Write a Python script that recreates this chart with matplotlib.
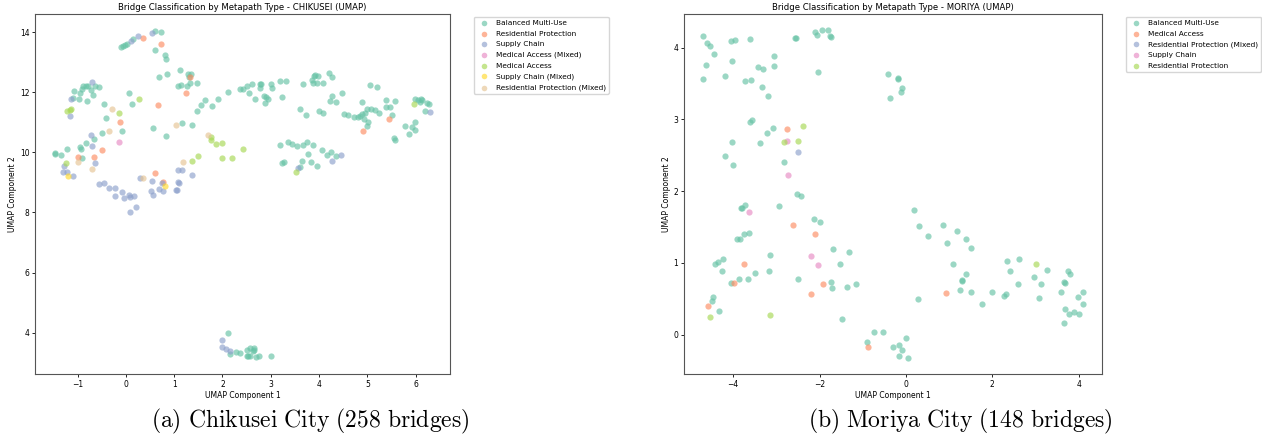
import matplotlib
matplotlib.use("Agg")
import matplotlib.pyplot as plt

plt.rcParams['mathtext.fontset'] = 'cm'

set2 = ['#66c2a5', '#fc8d62', '#8da0cb', '#e78ac3', '#a6d854', '#ffd92f', '#e5c494']

# ---- Chikusei ----
chikusei_labels = ['Balanced Multi-Use', 'Residential Protection', 'Supply Chain',
                   'Medical Access (Mixed)', 'Medical Access', 'Supply Chain (Mixed)',
                   'Residential Protection (Mixed)']

chikusei_balanced = [
    (-1.47, 9.93), (-1.47, 9.97), (-1.34, 9.90), (-1.21, 10.10), (-0.95, 10.17), (-0.92, 10.10),
    (-0.90, 9.80), (-0.83, 10.30), (-0.66, 10.43), (-0.50, 10.63), (-0.41, 11.13), (-0.46, 11.60),
    (-1.07, 12.04), (-0.97, 11.77), (-1.10, 11.80),
    (-0.88, 12.20), (-0.83, 12.22), (-0.78, 12.20), (-0.72, 12.07), (-0.68, 11.92), (-0.64, 12.20),
    (-0.56, 12.18), (-0.80, 11.70), (-0.95, 11.98), (-0.91, 12.12),
    (-0.10, 13.50), (-0.05, 13.55), (-0.02, 13.58), (0.02, 13.60), (0.15, 13.76), (0.61, 14.05),
    (0.73, 13.99), (0.61, 13.40), (0.81, 13.24), (0.84, 13.10), (0.86, 12.59), (0.69, 12.49),
    (1.12, 12.73), (1.28, 12.62), (1.35, 12.62), (1.31, 12.50), (1.08, 12.20), (1.15, 12.23),
    (1.26, 12.20), (1.33, 12.29), (1.47, 12.32), (0.07, 11.97), (0.12, 11.61), (-0.07, 10.71),
    (0.56, 10.80), (0.83, 10.54), (1.17, 10.98), (1.36, 10.91), (1.47, 11.36), (1.55, 11.57),
    (1.64, 11.73), (1.78, 11.53), (1.91, 11.77), (2.12, 12.00),
    (2.36, 12.10), (2.42, 12.10), (2.50, 12.20), (2.54, 11.96), (2.62, 12.27), (2.67, 11.76),
    (2.77, 12.26), (2.79, 12.28), (2.77, 12.13), (2.86, 11.89), (2.90, 11.84), (2.95, 11.76),
    (2.89, 11.64), (3.00, 12.26), (3.03, 12.13), (3.20, 12.36), (3.31, 12.38), (3.24, 11.84),
    (3.61, 11.44), (3.73, 11.23), (3.67, 12.27), (3.86, 12.42), (3.89, 12.53), (3.92, 12.58),
    (3.98, 12.53), (3.96, 12.29), (3.88, 12.31), (4.09, 12.29), (4.21, 12.64), (4.26, 12.49),
    (4.26, 11.88), (4.22, 11.72), (4.36, 11.68), (4.47, 11.98), (4.00, 11.36), (4.09, 11.30),
    (4.51, 11.29), (4.60, 11.23), (4.73, 11.18), (4.80, 11.18), (4.85, 11.22), (4.89, 11.27),
    (4.95, 11.32), (5.00, 11.43), (5.07, 11.44), (5.15, 11.42), (5.25, 11.31), (4.93, 11.11),
    (5.02, 11.01), (5.00, 10.86), (4.89, 11.69), (5.06, 12.24), (5.20, 12.18), (5.38, 11.73),
    (5.38, 11.51), (5.47, 11.50), (5.58, 11.72), (5.50, 11.23), (5.55, 10.48), (5.58, 10.41),
    (5.78, 10.87), (5.87, 10.62), (5.93, 10.84), (5.98, 10.73), (5.98, 11.00),
    (5.98, 11.78), (6.05, 11.73), (6.08, 11.69), (6.12, 11.78), (6.13, 11.73), (6.23, 11.64),
    (6.27, 11.62), (6.20, 11.37),
    (3.19, 10.23), (3.36, 10.36), (3.43, 10.28), (3.55, 10.21), (3.66, 10.26), (3.76, 10.33),
    (3.88, 10.26), (3.78, 9.93), (4.07, 10.07), (4.16, 9.92), (4.24, 10.00), (4.36, 9.87),
    (3.64, 9.70), (3.83, 9.67), (3.96, 9.56), (3.24, 9.64), (3.27, 9.68), (3.60, 9.50),
    (2.11, 3.98), (2.15, 3.31), (2.28, 3.36), (2.37, 3.33), (2.50, 3.44), (2.50, 3.24),
    (2.53, 3.24), (2.58, 3.51), (2.66, 3.51), (2.64, 3.38), (2.65, 3.44), (2.58, 3.22),
    (2.69, 3.18), (2.75, 3.22), (3.00, 3.22),
]
chikusei_res_prot = [
    (0.36, 13.79), (0.73, 13.61), (1.33, 12.49), (1.24, 11.96), (0.66, 11.56), (-0.12, 11.01),
    (-0.50, 10.07), (-0.99, 9.84), (-0.65, 9.84), (0.60, 9.32), (0.77, 9.01), (4.91, 10.70),
    (5.45, 11.10),
]
chikusei_supply = [
    (-1.16, 11.20), (-1.14, 11.79), (-0.70, 12.34), (0.10, 13.70), (0.26, 13.88), (0.54, 13.98),
    (-0.69, 10.20), (-0.72, 10.58), (-0.64, 9.66), (-1.28, 9.56), (-1.30, 9.36), (-1.21, 9.36),
    (-1.10, 9.21), (-0.56, 8.94), (-0.45, 8.97), (-0.35, 8.82), (-0.23, 8.80), (-0.23, 8.56),
    (-0.07, 8.68), (-0.04, 8.48), (0.07, 8.59), (0.08, 8.51), (0.17, 8.54), (0.21, 8.17),
    (0.08, 8.00), (0.30, 9.14), (0.54, 9.04), (0.52, 8.71), (0.56, 8.59), (0.68, 8.79),
    (0.75, 8.98), (0.77, 8.70), (1.04, 8.76), (1.05, 8.75), (1.08, 9.00), (1.10, 8.97),
    (1.07, 9.41), (1.17, 9.41), (1.37, 9.26), (3.57, 9.49), (4.26, 9.72), (4.45, 9.92),
    (6.30, 11.33), (1.99, 3.77), (1.99, 3.53), (2.08, 3.47), (2.15, 3.40),
]
chikusei_med_mixed = [(-0.14, 10.33)]
chikusei_medical = [
    (-1.22, 11.38), (-1.16, 11.42), (-1.13, 11.45), (-1.23, 9.64), (0.28, 11.79), (-0.14, 11.32),
    (1.37, 9.72), (1.50, 9.89), (1.77, 10.51), (1.77, 10.42), (1.87, 10.29), (2.00, 10.30),
    (1.99, 9.81), (2.19, 9.81), (2.42, 10.12), (3.52, 9.34), (5.97, 11.60),
]
chikusei_supply_mixed = [(-1.19, 9.22), (0.82, 8.88)]
chikusei_res_mixed = [
    (-0.28, 11.43), (-0.35, 10.71), (1.04, 10.91), (1.18, 9.69), (1.71, 10.58), (-0.99, 9.69),
    (-0.70, 9.44), (0.35, 9.14),
]

# ---- Moriya ----
moriya_labels = ['Balanced Multi-Use', 'Medical Access', 'Residential Protection (Mixed)',
                 'Supply Chain', 'Residential Protection']

moriya_balanced = [
    (-4.70, 4.16), (-4.61, 4.07), (-4.54, 4.02), (-4.44, 3.91), (-4.64, 3.76), (-4.70, 3.56),
    (-4.06, 4.10), (-3.97, 4.11), (-4.03, 3.82), (-4.20, 3.60), (-3.62, 4.12), (-3.73, 3.54),
    (-3.59, 3.55), (-3.42, 3.73), (-3.30, 3.71), (-3.05, 3.88), (-3.05, 3.74), (-3.33, 3.45),
    (-3.19, 3.33), (-2.56, 4.14), (-2.54, 4.14), (-2.11, 4.22), (-2.06, 4.18), (-1.95, 4.24),
    (-1.80, 4.24), (-1.77, 4.17), (-1.74, 4.15), (-2.04, 3.66), (-0.41, 3.64), (-0.19, 3.58),
    (-0.18, 3.57), (-0.09, 3.44), (-0.12, 3.38), (-0.37, 3.30),
    (-3.62, 2.97), (-3.56, 2.99), (-3.08, 2.88), (-3.22, 2.81), (-3.39, 2.67), (-4.02, 2.69),
    (-4.20, 2.49), (-4.00, 2.36), (-2.82, 2.40), (-2.52, 1.96), (-2.44, 1.93), (-2.94, 1.79),
    (-3.83, 1.77), (-3.79, 1.77), (-3.73, 1.80), (-2.14, 1.61), (-2.00, 1.57), (0.19, 1.74),
    (0.31, 1.52), (0.86, 1.53), (0.52, 1.37), (0.96, 1.28),
    (-3.92, 1.33), (-3.85, 1.33), (-3.76, 1.40), (-3.63, 1.42), (-1.69, 1.20), (-1.33, 1.15),
    (-1.53, 0.99), (-1.74, 0.73), (-1.72, 0.65), (-1.36, 0.67), (-1.16, 0.70), (-2.51, 0.78),
    (-1.47, 0.21), (-3.16, 1.11), (-3.17, 0.89), (-3.50, 0.86), (-3.65, 0.78), (-3.87, 0.78),
    (-4.06, 0.72), (-4.42, 0.99), (-4.35, 1.01), (-4.24, 1.06), (-4.27, 0.88), (-4.48, 0.52),
    (-4.50, 0.47), (-4.34, 0.33),
    (-0.90, -0.11), (-0.75, 0.04), (-0.54, 0.03), (-0.31, -0.17), (-0.16, -0.14), (-0.09, -0.22),
    (-0.16, -0.30), (0.00, -0.05), (0.04, -0.33), (0.29, 0.50),
    (1.18, 1.45), (1.39, 1.33), (1.50, 1.21), (1.09, 0.98), (1.40, 0.85), (1.29, 0.75),
    (1.30, 0.76), (1.26, 0.62), (1.50, 0.60), (1.76, 0.42), (2.00, 0.59), (2.28, 0.54),
    (2.31, 0.56), (2.35, 1.03), (2.40, 0.88), (2.62, 1.06), (2.60, 0.71), (2.97, 0.80),
    (3.12, 0.71), (3.08, 0.51), (3.27, 0.90), (3.58, 0.59), (3.67, 0.73), (3.69, 0.72),
    (3.76, 0.89), (3.80, 0.84), (4.09, 0.60), (3.98, 0.52), (4.10, 0.42), (3.68, 0.35),
    (3.77, 0.29), (3.90, 0.32), (4.01, 0.29), (3.66, 0.16),
]
moriya_medical = [
    (-2.76, 2.87), (-2.61, 1.53), (-2.10, 1.40), (-3.76, 0.99), (-3.99, 0.72), (-1.91, 0.71),
    (-2.19, 0.56), (-4.59, 0.40), (-0.89, -0.17), (0.92, 0.58),
]
moriya_res_mixed = [(-2.51, 2.54)]
moriya_supply = [(-2.75, 2.70), (-2.74, 2.23), (-3.63, 1.71), (-2.20, 1.09), (-2.04, 0.97)]
moriya_res_prot = [(-2.38, 2.91), (-2.82, 2.68), (-2.49, 2.70), (-4.54, 0.25), (-3.16, 0.27), (3.01, 0.99)]

chikusei_groups = [chikusei_balanced, chikusei_res_prot, chikusei_supply, chikusei_med_mixed,
                   chikusei_medical, chikusei_supply_mixed, chikusei_res_mixed]
moriya_groups = [moriya_balanced, moriya_medical, moriya_res_mixed, moriya_supply, moriya_res_prot]


def draw_panel(ax, groups, labels, title):
    for i, (pts, lab) in enumerate(zip(groups, labels)):
        xs = [p[0] for p in pts]
        ys = [p[1] for p in pts]
        ax.scatter(xs, ys, s=20, color=set2[i], alpha=0.65, linewidths=0, label=lab)
    ax.set_title(title, fontsize=6.1, pad=3)
    ax.set_xlabel('UMAP Component 1', fontsize=5.5, labelpad=2)
    ax.set_ylabel('UMAP Component 2', fontsize=5.5, labelpad=2)
    ax.tick_params(labelsize=5.5, length=2, width=0.6, pad=2)
    for sp in ax.spines.values():
        sp.set_linewidth(0.8)
        sp.set_color('#555555')
    ax.legend(loc='upper left', bbox_to_anchor=(1.05, 1), fontsize=5.3,
              frameon=True, borderaxespad=0.4, handletextpad=0.6, labelspacing=0.6,
              markerscale=0.9)


fig = plt.figure(figsize=(12.62, 4.44), dpi=100)
ax1 = fig.add_axes([35 / 1262, 70 / 444, 415 / 1262, 360 / 444])
ax2 = fig.add_axes([684 / 1262, 70 / 444, 418 / 1262, 360 / 444])

draw_panel(ax1, chikusei_groups, chikusei_labels,
           'Bridge Classification by Metapath Type - CHIKUSEI (UMAP)')
ax1.set_xlim(-1.88, 6.71)
ax1.set_ylim(2.63, 14.6)
ax1.set_xticks(range(-1, 7))
ax1.set_yticks(range(4, 15, 2))

draw_panel(ax2, moriya_groups, moriya_labels,
           'Bridge Classification by Metapath Type - MORIYA (UMAP)')
ax2.set_xlim(-5.14, 4.54)
ax2.set_ylim(-0.55, 4.47)
ax2.set_xticks(range(-4, 5, 2))
ax2.set_yticks(range(0, 5))

fig.text(310 / 1262, 1 - 421 / 444, r'$\mathrm{(a)\ Chikusei\ City\ (258\ bridges)}$',
         ha='center', va='center', fontsize=17)
fig.text(960 / 1262, 1 - 421 / 444, r'$\mathrm{(b)\ Moriya\ City\ (148\ bridges)}$',
         ha='center', va='center', fontsize=17)

fig.savefig('out.png', dpi=100)
